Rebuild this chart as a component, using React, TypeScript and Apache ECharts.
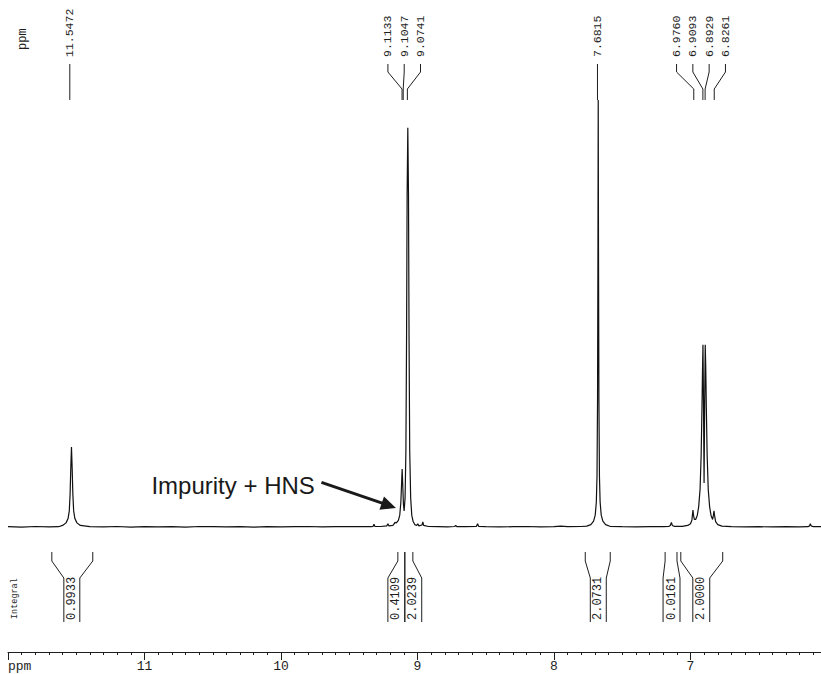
import React, { useEffect, useRef } from "react";
import * as echarts from "echarts";

// Spectrum trace: [ppm, relative intensity (7.68 ppm line = 100)]
const spectrum: [number, number][] = [
  [12.0, 0.3], [11.9, 0.2], [11.8, 0.35], [11.7, 0.25], [11.63, 0.3],
  [11.6, 0.6], [11.575, 1.2], [11.56, 2.2], [11.551, 4], [11.545, 8], [11.54, 14], [11.535, 18.9],
  [11.53, 14], [11.525, 8], [11.519, 4], [11.51, 2.2], [11.495, 1.2], [11.47, 0.6],
  [11.4, 0.3], [11.3, 0.25], [11.2, 0.35], [11.1, 0.2], [11.0, 0.3], [10.9, 0.25], [10.8, 0.3],
  [10.7, 0.2], [10.6, 0.35], [10.5, 0.3], [10.4, 0.25], [10.3, 0.3], [10.2, 0.2], [10.1, 0.3],
  [10.0, 0.25], [9.9, 0.3], [9.8, 0.35], [9.7, 0.25], [9.6, 0.3], [9.5, 0.3], [9.4, 0.35], [9.34, 0.3],
  [9.325, 0.4], [9.319, 0.9], [9.313, 0.4], [9.27, 0.35], [9.225, 0.5], [9.217, 1.0], [9.21, 0.5],
  [9.18, 0.6], [9.17, 1.0], [9.166, 1.3], [9.155, 1.2], [9.14, 1.8], [9.13, 3], [9.122, 6], [9.117, 10],
  [9.1125, 13.8], [9.108, 10], [9.103, 5.5], [9.098, 4], [9.091, 7], [9.085, 18], [9.08, 45], [9.076, 78],
  [9.071, 93.5], [9.066, 78], [9.062, 45], [9.057, 18], [9.05, 7], [9.042, 3], [9.032, 1.5], [9.02, 0.8],
  [9.006, 0.6], [8.998, 1.0], [8.99, 0.5], [8.967, 0.7], [8.961, 1.4], [8.955, 0.6], [8.92, 0.35],
  [8.85, 0.3], [8.78, 0.25], [8.728, 0.35], [8.72, 0.6], [8.712, 0.3], [8.65, 0.3], [8.568, 0.4],
  [8.56, 1.0], [8.552, 0.4], [8.5, 0.3], [8.4, 0.25], [8.3, 0.3], [8.2, 0.35], [8.1, 0.25], [8.0, 0.3],
  [7.95, 0.45], [7.9, 0.3], [7.8, 0.35], [7.76, 0.45],
  [7.73, 0.8], [7.71, 1.6], [7.698, 3], [7.69, 6], [7.685, 12], [7.681, 30], [7.678, 65], [7.676, 100],
  [7.674, 65], [7.671, 30], [7.667, 12], [7.662, 6], [7.654, 3], [7.642, 1.6], [7.622, 0.8], [7.59, 0.4],
  [7.5, 0.3], [7.4, 0.25], [7.3, 0.3], [7.2, 0.3], [7.16, 0.35], [7.148, 0.6], [7.14, 1.3], [7.133, 0.6],
  [7.12, 0.4], [7.06, 0.4], [7.02, 0.6], [7.0, 1.0], [6.99, 1.8], [6.986, 3], [6.982, 4.2], [6.978, 3],
  [6.972, 2], [6.962, 2], [6.95, 3], [6.94, 5], [6.93, 9], [6.922, 17], [6.916, 28], [6.912, 37],
  [6.9087, 42.8], [6.905, 30], [6.9005, 10.5], [6.896, 30], [6.892, 42.8], [6.888, 37], [6.884, 28],
  [6.878, 17], [6.87, 9], [6.86, 5], [6.85, 3], [6.838, 2], [6.832, 3], [6.828, 4.0], [6.824, 3],
  [6.816, 1.5], [6.8, 0.8], [6.77, 0.45], [6.7, 0.3], [6.6, 0.25], [6.5, 0.3], [6.4, 0.25], [6.3, 0.3],
  [6.2, 0.25], [6.14, 0.3], [6.128, 0.5], [6.122, 1.0], [6.116, 0.5], [6.1, 0.3], [6.0, 0.3],
];

// Peak-pick labels, grouped as in the plot
const peakLabelGroups: number[][] = [
  [11.5472],
  [9.1133, 9.1047, 9.0741],
  [7.6815],
  [6.976, 6.9093, 6.8929, 6.8261],
];

// Integrals: values, region edges (top) and label column edges (bottom), in ppm
const integralValues = [0.9933, 0.4109, 2.0239, 2.0731, 0.0161, 2.0];
const integralTop: [number, number][] = [
  [11.679, 11.379], [9.144, 9.093], [9.093, 9.034], [7.771, 7.588], [7.186, 7.099], [7.071, 6.764],
];
const integralBottom: [number, number][] = [
  [11.591, 11.474], [9.217, 9.093], [9.093, 8.969], [7.734, 7.617], [7.201, 7.077], [6.983, 6.859],
];

const axisLabels = [7, 8, 9, 10, 11];
const annotationText = "Impurity + HNS";
const annotationTarget: [number, number] = [9.158, 4.7];

const MONO = "'Liberation Mono', 'DejaVu Sans Mono', monospace";
const INK = "#1e1e1e";

export default function App() {
  const ref = useRef<HTMLDivElement>(null);
  useEffect(() => {
    const chart = echarts.init(ref.current!, null, { renderer: "svg" });
    chart.setOption({
      animation: false,
      backgroundColor: "#ffffff",
      grid: { left: 8, top: 0, width: 821.6, height: 652, containLabel: false },
      xAxis: {
        type: "value",
        inverse: true,
        min: 6,
        max: 12,
        interval: 1,
        axisLine: { show: true, onZero: false, lineStyle: { color: INK, width: 1 } },
        axisTick: { show: true, length: 8, lineStyle: { color: INK, width: 1 } },
        minorTick: { show: true, splitNumber: 10, length: 3, lineStyle: { color: INK, width: 1 } },
        splitLine: { show: false },
        axisLabel: {
          margin: 8,
          fontFamily: MONO,
          fontSize: 13,
          color: INK,
          formatter: (v: number) => (axisLabels.indexOf(Math.round(v * 1000) / 1000) >= 0 ? String(v) : ""),
        },
      },
      yAxis: { type: "value", show: false, min: -28.97, max: 123.36, splitLine: { show: false } },
      series: [
        {
          type: "line",
          data: spectrum,
          showSymbol: false,
          symbol: "none",
          silent: true,
          lineStyle: { color: "#111", width: 1.2 },
        },
      ],
    });

    const px = (ppm: number, v = 0) => chart.convertToPixel({ gridIndex: 0 }, [ppm, v]) as number[];
    const elements: any[] = [];
    const line = (pts: number[][], w = 1) =>
      elements.push({ type: "polyline", silent: true, shape: { points: pts }, style: { stroke: INK, lineWidth: w, fill: null } });
    const vtext = (x: number, y: number, text: string, font: string) =>
      elements.push({
        type: "text", silent: true, x, y, rotation: Math.PI / 2,
        style: { text, font, fill: INK, align: "left", verticalAlign: "middle" },
      });

    // peak labels at top
    peakLabelGroups.forEach((g) => {
      const xs = g.map((p) => px(p)[0]);
      const center = xs.reduce((a, b) => a + b, 0) / xs.length - (g.length > 3 ? 3 : 0);
      const sp = 16.3;
      g.forEach((p, i) => {
        const lx = g.length === 1 ? xs[i] : center + (i - (g.length - 1) / 2) * sp;
        vtext(lx, 57, p.toFixed(4), `11.5px ${MONO}`);
        if (g.length === 1) line([[lx, 64], [lx, 100]]);
        else line([[lx, 64], [lx, 72], [xs[i], 89], [xs[i], 100]]);
      });
    });
    vtext(23, 50, "ppm", `12px ${MONO}`);

    // integrals
    const base = px(9, 0)[1];
    integralValues.forEach((val, i) => {
      const tl = px(integralTop[i][0])[0];
      const tr = px(integralTop[i][1])[0];
      const bl = px(integralBottom[i][0])[0];
      const br = px(integralBottom[i][1])[0];
      line([[tl, base + 24], [tl, base + 33], [bl, base + 50], [bl, base + 94]]);
      line([[tr, base + 24], [tr, base + 33], [br, base + 50], [br, base + 94]]);
      vtext((bl + br) / 2, base + 92, val.toFixed(4), `12px ${MONO}`);
    });
    vtext(15, base + 91, "Integral", `8.5px ${MONO}`);

    // bottom ppm label
    elements.push({
      type: "text", silent: true, x: 8, y: 666,
      style: { text: "ppm", font: `13px ${MONO}`, fill: INK, align: "left", verticalAlign: "middle" },
    });

    // annotation arrow
    const tip = px(annotationTarget[0], annotationTarget[1]);
    const start = [tip[0] - 74.5, tip[1] - 25.5];
    const dx = tip[0] - start[0], dy = tip[1] - start[1];
    const len = Math.hypot(dx, dy);
    const ux = dx / len, uy = dy / len;
    const hl = 15, hw = 7;
    const bc = [tip[0] - ux * hl, tip[1] - uy * hl];
    elements.push({
      type: "line", silent: true,
      shape: { x1: start[0], y1: start[1], x2: bc[0] + ux * 2, y2: bc[1] + uy * 2 },
      style: { stroke: "#1a1a1a", lineWidth: 3 },
    });
    elements.push({
      type: "polygon", silent: true,
      shape: { points: [[tip[0], tip[1]], [bc[0] - uy * hw, bc[1] + ux * hw], [bc[0] + uy * hw, bc[1] - ux * hw]] },
      style: { fill: "#1a1a1a" },
    });
    elements.push({
      type: "text", silent: true, x: start[0] - 170, y: start[1] + 3,
      style: { text: annotationText, font: `24px 'Liberation Sans', Arial, sans-serif`, fill: "#1a1a1a", align: "left", verticalAlign: "middle" },
    });

    chart.setOption({ graphic: { elements } });
    return () => chart.dispose();
  }, []);
  return <div ref={ref} style={{ position: "fixed", left: 0, top: 0, width: 830, height: 674, background: "#fff" }} />;
}
